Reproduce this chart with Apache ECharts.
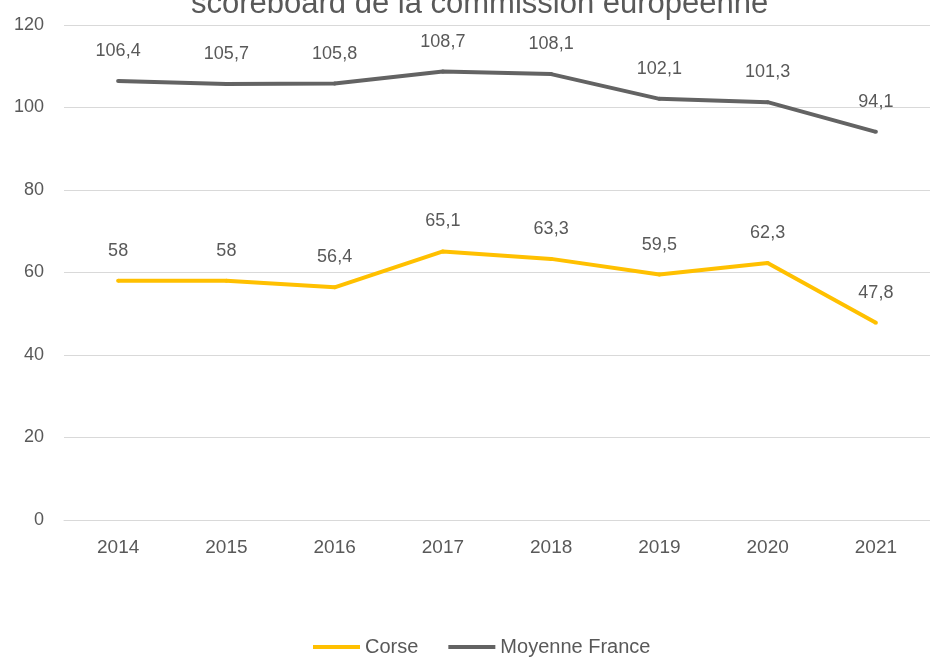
<!DOCTYPE html>
<html>
<head>
<meta charset="utf-8">
<script src="https://cdn.jsdelivr.net/npm/echarts@6/dist/echarts.min.js"></script>
<style>
html,body{margin:0;padding:0;background:#fff;}
#main{width:930px;height:657px;}
</style>
</head>
<body>
<div id="main"></div>
<script type="text/javascript">
var annees = ['2014','2015','2016','2017','2018','2019','2020','2021'];
var corse = [58, 58, 56.4, 65.1, 63.3, 59.5, 62.3, 47.8];
var moyenneFrance = [106.4, 105.7, 105.8, 108.7, 108.1, 102.1, 101.3, 94.1];

var myChart = echarts.init(document.getElementById('main'));
// virgule décimale comme dans l'original
var fmt = function(p){ return String(p.value).replace('.', ','); };
var police = 'Liberation Sans, Arial, sans-serif';
var option = {
    backgroundColor: '#fff',
    title: {
        text: 'scoreboard de la commission européenne',
        left: 186,
        top: -16,
        textStyle: {color: '#595959', fontSize: 31, fontWeight: 'normal', fontFamily: police}
    },
    legend: {
        bottom: -5,
        left: 308,
        itemWidth: 47,
        itemHeight: 4,
        itemGap: 30,
        icon: 'rect',
        textStyle: {color: '#595959', fontSize: 20, fontFamily: police},
        data: ['Corse', 'Moyenne France']
    },
    grid: {left: 64, right: -13, top: 25, bottom: 137, containLabel: false},
    xAxis: {
        type: 'category',
        data: annees,
        axisLine: {show: true, lineStyle: {color: '#d9d9d9'}},
        axisTick: {show: false},
        axisLabel: {color: '#595959', fontSize: 19, margin: 18, fontFamily: police}
    },
    yAxis: {
        type: 'value',
        min: 0, max: 120, interval: 20,
        axisLine: {show: false},
        axisTick: {show: false},
        axisLabel: {color: '#595959', fontSize: 18, margin: 20, fontFamily: police},
        splitLine: {lineStyle: {color: '#d9d9d9', width: 1}}
    },
    series: [{
        name: 'Corse',
        type: 'line',
        data: corse,
        symbol: 'circle',
        symbolSize: 4,
        showSymbol: true,
        color: '#ffc000',
        itemStyle: {color: '#ffc000', borderWidth: 0},
        lineStyle: {width: 4, color: '#ffc000'},
        label: {show: true, position: 'top', distance: 19, color: '#595959', fontSize: 18, fontFamily: police, formatter: fmt}
    }, {
        name: 'Moyenne France',
        type: 'line',
        data: moyenneFrance,
        symbol: 'circle',
        symbolSize: 4,
        showSymbol: true,
        color: '#636363',
        itemStyle: {color: '#636363', borderWidth: 0},
        lineStyle: {width: 4, color: '#636363'},
        label: {show: true, position: 'top', distance: 19, color: '#595959', fontSize: 18, fontFamily: police, formatter: fmt}
    }]
};
myChart.setOption(option);
</script>
</body>
</html>
